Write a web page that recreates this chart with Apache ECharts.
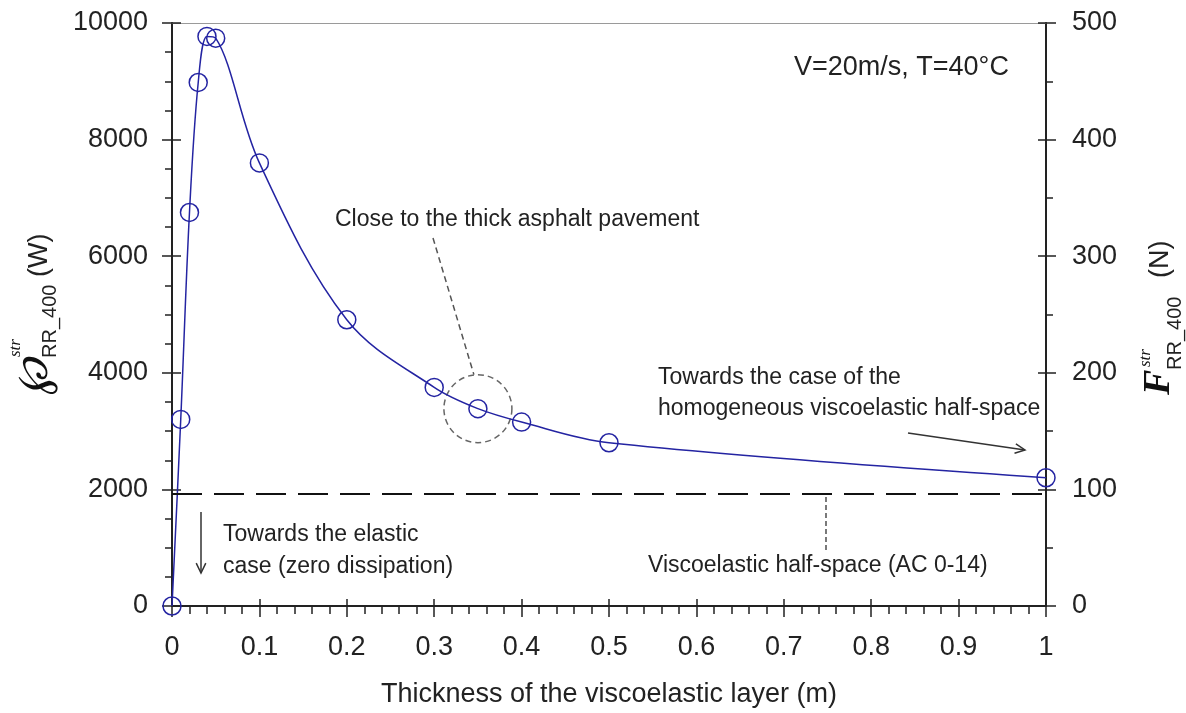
<!DOCTYPE html>
<html>
<head>
<meta charset="utf-8">
<script src="https://cdn.jsdelivr.net/npm/echarts@6/dist/echarts.min.js"></script>
<style>
  html, body { margin: 0; padding: 0; background: #fff; }
  #chart { width: 1186px; height: 713px; }
</style>
</head>
<body>
<div id="chart"></div>
<script>
// Layer thickness (m) and structural rolling-resistance power (W)
const thickness = [0, 0.01, 0.02, 0.03, 0.04, 0.05, 0.1, 0.2, 0.3, 0.35, 0.4, 0.5, 1.0];
const power = [0, 3200, 6750, 8980, 9770, 9740, 7600, 4910, 3750, 3385, 3155, 2800, 2200];
// Reference level of the homogeneous viscoelastic half-space
const halfSpacePower = 1930;
// Highlighted point ("thick asphalt pavement")
const highlightThickness = 0.35;
const highlightPower = 3385;

const xRange = [0, 1, 0.1];
const powerRange = [0, 10000, 2000];
const forceRange = [0, 500, 100];

const FONT = '"Liberation Sans", Arial, sans-serif';
const INK = '#222';
const CURVE = '#2424a2';

const points = thickness.map((t, i) => [t, power[i]]);

const chart = echarts.init(document.getElementById('chart'), null, { renderer: 'canvas' });

const axisLineStyle = { color: INK, width: 2 };
const tickStyle = { color: INK, width: 1.5 };
const plain = v => String(v);

chart.setOption({
  animation: false,
  backgroundColor: '#fff',
  grid: { left: 172, right: 140, top: 23, bottom: 106 },
  xAxis: [
    {
      type: 'value', position: 'bottom',
      min: xRange[0], max: xRange[1], interval: xRange[2],
      axisLine: { onZero: false, lineStyle: axisLineStyle },
      axisTick: { length: 11, lineStyle: tickStyle },
      minorTick: { show: true, splitNumber: 5, length: 8, lineStyle: tickStyle },
      axisLabel: { margin: 28, fontSize: 27, fontFamily: FONT, color: INK },
      splitLine: { show: false },
      name: 'Thickness of the viscoelastic layer (m)',
      nameLocation: 'middle', nameGap: 75,
      nameTextStyle: { fontSize: 27, fontFamily: FONT, color: INK }
    },
    {
      type: 'value', position: 'bottom',
      min: xRange[0], max: xRange[1], interval: xRange[2],
      axisLine: { show: false, onZero: false },
      axisTick: { inside: true, length: 7, lineStyle: tickStyle },
      axisLabel: { show: false },
      splitLine: { show: false }
    },
    {
      type: 'value', position: 'top',
      min: xRange[0], max: xRange[1], interval: xRange[2],
      axisLine: { onZero: false, lineStyle: { color: '#9a9a9a', width: 1.2 } },
      axisTick: { show: false },
      axisLabel: { show: false },
      splitLine: { show: false }
    }
  ],
  yAxis: [
    {
      type: 'value', position: 'left',
      min: powerRange[0], max: powerRange[1], interval: powerRange[2],
      axisLine: { show: true, onZero: false, lineStyle: axisLineStyle },
      axisTick: { show: true, length: 10, lineStyle: tickStyle },
      minorTick: { show: true, splitNumber: 4, length: 7, lineStyle: tickStyle },
      axisLabel: { margin: 24, fontSize: 27, fontFamily: FONT, color: INK, formatter: plain },
      splitLine: { show: false }
    },
    {
      type: 'value', position: 'right',
      min: forceRange[0], max: forceRange[1], interval: forceRange[2],
      axisLine: { show: true, onZero: false, lineStyle: axisLineStyle },
      axisTick: { show: true, length: 10, lineStyle: tickStyle },
      minorTick: { show: true, splitNumber: 2, length: 7, lineStyle: tickStyle },
      axisLabel: { margin: 26, fontSize: 27, fontFamily: FONT, color: INK, formatter: plain },
      splitLine: { show: false }
    },
    {
      type: 'value', position: 'left',
      min: powerRange[0], max: powerRange[1], interval: powerRange[2],
      axisLine: { show: false, onZero: false },
      axisTick: { show: true, inside: true, length: 9, lineStyle: tickStyle },
      axisLabel: { show: false },
      splitLine: { show: false }
    },
    {
      type: 'value', position: 'right',
      min: forceRange[0], max: forceRange[1], interval: forceRange[2],
      axisLine: { show: false, onZero: false },
      axisTick: { show: true, inside: true, length: 8, lineStyle: tickStyle },
      axisLabel: { show: false },
      splitLine: { show: false }
    }
  ],
  series: [
    {
      type: 'line',
      xAxisIndex: 0, yAxisIndex: 0,
      data: points,
      smooth: 0.35,
      symbol: 'circle',
      symbolSize: 18,
      itemStyle: { color: 'rgba(0,0,0,0)', borderColor: CURVE, borderWidth: 1.5 },
      lineStyle: { color: CURVE, width: 1.5 },
      emphasis: { disabled: true },
      markLine: {
        silent: true,
        symbol: ['none', 'none'],
        label: { show: false },
        lineStyle: { color: '#111', type: [30, 12], width: 2 },
        data: [{ yAxis: halfSpacePower }]
      },
      z: 3
    }
  ]
});

// Annotation layer
const hp = chart.convertToPixel({ xAxisIndex: 0, yAxisIndex: 0 }, [highlightThickness, highlightPower]);
const textStyle = (txt, size) => ({ text: txt, font: size + 'px ' + FONT, fill: INK, verticalAlign: 'middle', align: 'left' });
const arrowHead = (x, y, angle, len) => {
  const a1 = angle + Math.PI - 0.45, a2 = angle + Math.PI + 0.45;
  return [[x + len * Math.cos(a1), y + len * Math.sin(a1)], [x, y], [x + len * Math.cos(a2), y + len * Math.sin(a2)]];
};
const rightArrowFrom = [908, 433], rightArrowTo = [1025, 450];
const rightAngle = Math.atan2(rightArrowTo[1] - rightArrowFrom[1], rightArrowTo[0] - rightArrowFrom[0]);

chart.setOption({
  graphic: [
    { type: 'text', x: 794, y: 68, style: textStyle('V=20m/s, T=40°C', 27) },
    { type: 'text', x: 335, y: 220, style: textStyle('Close to the thick asphalt pavement', 23) },
    {
      type: 'line',
      shape: { x1: 433, y1: 238, x2: hp[0] - 4, y2: hp[1] - 34 },
      style: { stroke: '#555', lineWidth: 1.5, lineDash: [6, 4] }
    },
    {
      type: 'circle',
      shape: { cx: hp[0], cy: hp[1], r: 34 },
      style: { fill: 'none', stroke: '#666', lineWidth: 1.5, lineDash: [6, 4] }
    },
    { type: 'text', x: 658, y: 378, style: textStyle('Towards the case of the', 23) },
    { type: 'text', x: 658, y: 409, style: textStyle('homogeneous viscoelastic half-space', 23) },
    {
      type: 'line',
      shape: { x1: rightArrowFrom[0], y1: rightArrowFrom[1], x2: rightArrowTo[0], y2: rightArrowTo[1] },
      style: { stroke: '#333', lineWidth: 1.5 }
    },
    {
      type: 'polyline',
      shape: { points: arrowHead(rightArrowTo[0], rightArrowTo[1], rightAngle, 11) },
      style: { stroke: '#333', lineWidth: 1.5, fill: 'none' }
    },
    {
      type: 'line',
      shape: { x1: 826, y1: 497, x2: 826, y2: 552 },
      style: { stroke: '#222', lineWidth: 1.2, lineDash: [5, 3] }
    },
    { type: 'text', x: 648, y: 566, style: textStyle('Viscoelastic half-space (AC 0-14)', 23) },
    {
      type: 'line',
      shape: { x1: 201, y1: 512, x2: 201, y2: 573 },
      style: { stroke: '#333', lineWidth: 1.5 }
    },
    {
      type: 'polyline',
      shape: { points: arrowHead(201, 573, Math.PI / 2, 11) },
      style: { stroke: '#333', lineWidth: 1.5, fill: 'none' }
    },
    { type: 'text', x: 223, y: 535, style: textStyle('Towards the elastic', 23) },
    { type: 'text', x: 223, y: 567, style: textStyle('case (zero dissipation)', 23) },
    // Left axis title: ℘ with superscript str and subscript RR_400, (W)
    {
      type: 'group', x: 40, y: 395, rotation: Math.PI / 2,
      children: [
        { type: 'text', x: 0, y: -4, style: { text: '℘', font: 'italic 44px "DejaVu Serif", serif', fill: '#111', verticalAlign: 'middle', align: 'left' } },
        { type: 'text', x: 38, y: -24, style: { text: 'str', font: 'italic 17px "Liberation Serif", serif', fill: '#111', verticalAlign: 'middle', align: 'left' } },
        { type: 'text', x: 37, y: 10, style: { text: 'RR_400', font: '20px ' + FONT, fill: INK, verticalAlign: 'middle', align: 'left' } },
        { type: 'text', x: 118, y: 0, style: { text: '(W)', font: '27px ' + FONT, fill: INK, verticalAlign: 'middle', align: 'left' } }
      ]
    },
    // Right axis title: F with superscript str and subscript RR_400, (N)
    {
      type: 'group', x: 1160, y: 395, rotation: Math.PI / 2,
      children: [
        { type: 'text', x: 0, y: -1, style: { text: 'F', font: 'italic bold 38px "Liberation Serif", serif', fill: '#111', verticalAlign: 'middle', align: 'left' } },
        { type: 'text', x: 28, y: -14, style: { text: 'str', font: 'italic 17px "Liberation Serif", serif', fill: '#111', verticalAlign: 'middle', align: 'left' } },
        { type: 'text', x: 25, y: 15, style: { text: 'RR_400', font: '20px ' + FONT, fill: INK, verticalAlign: 'middle', align: 'left' } },
        { type: 'text', x: 117, y: 1, style: { text: '(N)', font: '27px ' + FONT, fill: INK, verticalAlign: 'middle', align: 'left' } }
      ]
    }
  ]
});
</script>
</body>
</html>
